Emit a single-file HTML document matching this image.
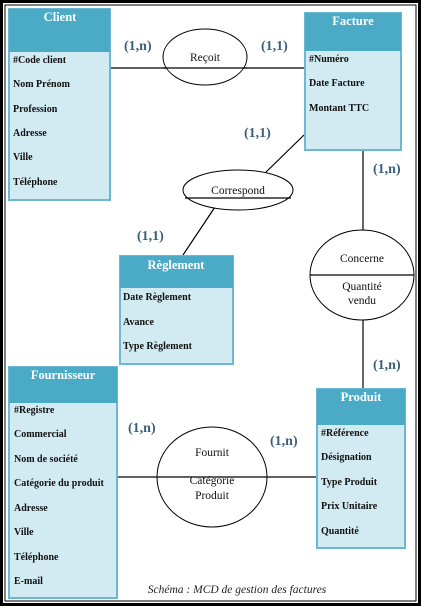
<!DOCTYPE html>
<html><head><style>
html,body{margin:0;padding:0;background:#fff}
svg{display:block}
text{font-family:"Liberation Serif",serif}
.a{font-size:10px;font-weight:bold;fill:#111}
.h{font-size:12.5px;font-weight:bold;fill:#fff}
.c{font-size:14px;font-weight:bold;fill:#3a5f7d}
.e{font-size:11.5px;fill:#111}
</style></head><body>
<svg width="421" height="606" viewBox="0 0 421 606">
<rect x="1.5" y="1.5" width="418" height="603" fill="#fff" stroke="#000" stroke-width="3"/>
<rect x="5" y="5" width="411" height="596" fill="none" stroke="#000" stroke-width="1"/>
<g stroke="#000" stroke-width="1.2" fill="none">
<line x1="111" y1="68" x2="304" y2="68"/>
<line x1="304" y1="135" x2="263" y2="175"/>
<line x1="215" y1="207" x2="183" y2="255"/>
<line x1="363" y1="150" x2="363" y2="231"/>
<line x1="363" y1="319" x2="363" y2="388"/>
<line x1="117" y1="477" x2="316" y2="477"/>
</g>
<g fill="#fff" stroke="#000" stroke-width="1">
<ellipse cx="205" cy="57" rx="42" ry="28"/>
<ellipse cx="238" cy="190" rx="55" ry="20"/>
<ellipse cx="362" cy="275" rx="52" ry="45"/>
<ellipse cx="212" cy="477" rx="55" ry="50"/>
</g>
<g stroke="#000" stroke-width="1.2">
<line x1="163" y1="68" x2="247" y2="68"/>
<line x1="185" y1="198" x2="291" y2="198"/>
<line x1="310" y1="275" x2="414" y2="275"/>
<line x1="157" y1="477" x2="267" y2="477"/>
</g>
<!-- Client -->
<rect x="9" y="9" width="101" height="191" fill="#d2eaf2" stroke="#6cb8d2" stroke-width="2"/>
<rect x="9" y="9" width="101" height="43" fill="#4baac6"/>
<text class="h" x="60" y="21" text-anchor="middle">Client</text>
<g class="a"><text x="13" y="63">#Code client</text><text x="13" y="87">Nom Prénom</text><text x="13" y="112">Profession</text><text x="13" y="136">Adresse</text><text x="13" y="160">Ville</text><text x="13" y="185">Téléphone</text></g>
<!-- Facture -->
<rect x="305" y="13" width="96" height="137" fill="#d2eaf2" stroke="#6cb8d2" stroke-width="2"/>
<rect x="305" y="13" width="96" height="38" fill="#4baac6"/>
<text class="h" x="353" y="25" text-anchor="middle">Facture</text>
<g class="a"><text x="309" y="62">#Numéro</text><text x="309" y="86">Date Facture</text><text x="309" y="111">Montant TTC</text></g>
<!-- Reglement -->
<rect x="120" y="256" width="113" height="108" fill="#d2eaf2" stroke="#6cb8d2" stroke-width="2"/>
<rect x="120" y="256" width="113" height="32" fill="#4baac6"/>
<text class="h" x="176" y="269" text-anchor="middle">Règlement</text>
<g class="a"><text x="123" y="300">Date Règlement</text><text x="123" y="325">Avance</text><text x="123" y="349">Type Règlement</text></g>
<!-- Fournisseur -->
<rect x="9" y="367" width="108" height="231" fill="#d2eaf2" stroke="#6cb8d2" stroke-width="2"/>
<rect x="9" y="367" width="108" height="36" fill="#4baac6"/>
<text class="h" x="63" y="379" text-anchor="middle">Fournisseur</text>
<g class="a"><text x="14" y="413">#Registre</text><text x="14" y="437">Commercial</text><text x="14" y="462">Nom de société</text><text x="14" y="486">Catégorie du produit</text><text x="14" y="511">Adresse</text><text x="14" y="535">Ville</text><text x="14" y="560">Téléphone</text><text x="14" y="584">E-mail</text></g>
<!-- Produit -->
<rect x="317" y="389" width="88" height="159" fill="#d2eaf2" stroke="#6cb8d2" stroke-width="2"/>
<rect x="317" y="389" width="88" height="36" fill="#4baac6"/>
<text class="h" x="361" y="401" text-anchor="middle">Produit</text>
<g class="a"><text x="321" y="436">#Référence</text><text x="321" y="460">Désignation</text><text x="321" y="485">Type Produit</text><text x="321" y="509">Prix Unitaire</text><text x="321" y="534">Quantité</text></g>
<!-- ellipse labels -->
<g class="e" text-anchor="middle">
<text x="205" y="61">Reçoit</text>
<text x="238" y="194">Correspond</text>
<text x="362" y="262">Concerne</text>
<text x="362" y="290">Quantité</text><text x="362" y="304">vendu</text>
<text x="212" y="456">Fournit</text>
<text x="212" y="484">Catégorie</text><text x="212" y="499">Produit</text>
</g>
<g class="c">
<text x="124" y="50">(1,n)</text><text x="261" y="50">(1,1)</text>
<text x="244" y="137">(1,1)</text><text x="373" y="173">(1,n)</text>
<text x="137" y="240">(1,1)</text><text x="373" y="369">(1,n)</text>
<text x="128" y="432">(1,n)</text><text x="270" y="445">(1,n)</text>
</g>
<text x="237" y="593" text-anchor="middle" style="font-size:11.5px;font-style:italic;fill:#222">Schéma : MCD de gestion des factures</text>
</svg>
</body></html>
